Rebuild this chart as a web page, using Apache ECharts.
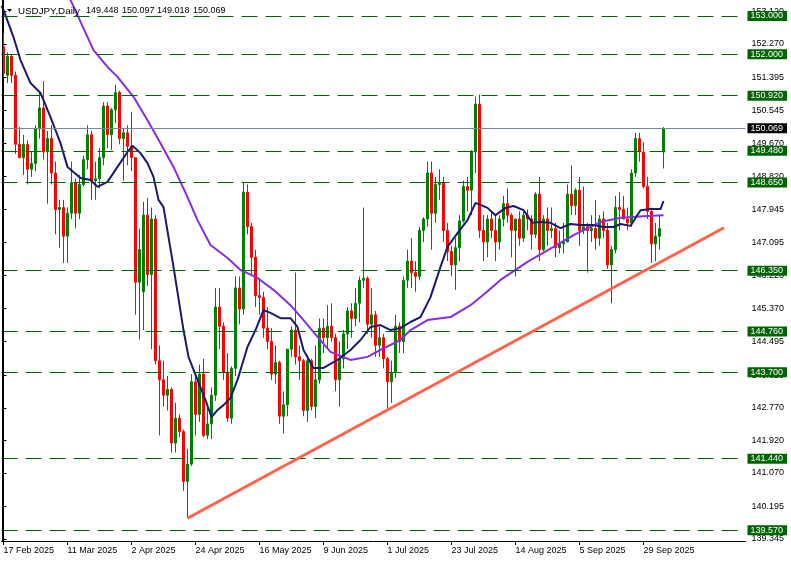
<!DOCTYPE html>
<html><head><meta charset="utf-8">
<script src="https://cdn.jsdelivr.net/npm/echarts@6/dist/echarts.min.js"></script>
<style>html,body{margin:0;padding:0;background:#fff}#c{width:791px;height:563px}</style>
</head><body><div id="c"></div>
<script>
// ---- categories (trading days) ----
const dates = [
'17 Feb 2025','18 Feb 2025','19 Feb 2025','20 Feb 2025','21 Feb 2025','24 Feb 2025','25 Feb 2025','26 Feb 2025','27 Feb 2025','28 Feb 2025',
'3 Mar 2025','4 Mar 2025','5 Mar 2025','6 Mar 2025','7 Mar 2025','10 Mar 2025','11 Mar 2025','12 Mar 2025','13 Mar 2025','14 Mar 2025','17 Mar 2025','18 Mar 2025','19 Mar 2025','20 Mar 2025','21 Mar 2025','24 Mar 2025','25 Mar 2025','26 Mar 2025','27 Mar 2025','28 Mar 2025','31 Mar 2025',
'1 Apr 2025','2 Apr 2025','3 Apr 2025','4 Apr 2025','7 Apr 2025','8 Apr 2025','9 Apr 2025','10 Apr 2025','11 Apr 2025','14 Apr 2025','15 Apr 2025','16 Apr 2025','17 Apr 2025','18 Apr 2025','21 Apr 2025','22 Apr 2025','23 Apr 2025','24 Apr 2025','25 Apr 2025','28 Apr 2025','29 Apr 2025','30 Apr 2025',
'1 May 2025','2 May 2025','5 May 2025','6 May 2025','7 May 2025','8 May 2025','9 May 2025','12 May 2025','13 May 2025','14 May 2025','15 May 2025','16 May 2025','19 May 2025','20 May 2025','21 May 2025','22 May 2025','23 May 2025','26 May 2025','27 May 2025','28 May 2025','29 May 2025','30 May 2025',
'2 Jun 2025','3 Jun 2025','4 Jun 2025','5 Jun 2025','6 Jun 2025','9 Jun 2025','10 Jun 2025','11 Jun 2025','12 Jun 2025','13 Jun 2025','16 Jun 2025','17 Jun 2025','18 Jun 2025','19 Jun 2025','20 Jun 2025','23 Jun 2025','24 Jun 2025','25 Jun 2025','26 Jun 2025','27 Jun 2025','30 Jun 2025',
'1 Jul 2025','2 Jul 2025','3 Jul 2025','4 Jul 2025','7 Jul 2025','8 Jul 2025','9 Jul 2025','10 Jul 2025','11 Jul 2025','14 Jul 2025','15 Jul 2025','16 Jul 2025','17 Jul 2025','18 Jul 2025','21 Jul 2025','22 Jul 2025','23 Jul 2025','24 Jul 2025','25 Jul 2025','28 Jul 2025','29 Jul 2025','30 Jul 2025','31 Jul 2025',
'1 Aug 2025','4 Aug 2025','5 Aug 2025','6 Aug 2025','7 Aug 2025','8 Aug 2025','11 Aug 2025','12 Aug 2025','13 Aug 2025','14 Aug 2025','15 Aug 2025','18 Aug 2025','19 Aug 2025','20 Aug 2025','21 Aug 2025','22 Aug 2025','25 Aug 2025','26 Aug 2025','27 Aug 2025','28 Aug 2025','29 Aug 2025',
'1 Sep 2025','2 Sep 2025','3 Sep 2025','4 Sep 2025','5 Sep 2025','8 Sep 2025','9 Sep 2025','10 Sep 2025','11 Sep 2025','12 Sep 2025','15 Sep 2025','16 Sep 2025','17 Sep 2025','18 Sep 2025','19 Sep 2025','22 Sep 2025','23 Sep 2025','24 Sep 2025','25 Sep 2025','26 Sep 2025','29 Sep 2025','30 Sep 2025',
'1 Oct 2025','2 Oct 2025','3 Oct 2025','6 Oct 2025'
];
// ---- OHLC ----
const opens = [
152.20,151.45,151.95,151.45,149.65,149.30,149.65,149.00,149.15,150.05,
150.60,149.45,149.80,148.90,147.95,148.00,147.25,147.85,148.65,147.85,148.60,149.25,149.90,148.70,148.75,149.30,150.65,149.90,150.55,151.00,149.80,
149.95,149.60,149.30,146.05,145.80,147.80,146.25,147.70,144.00,143.50,143.10,143.25,141.85,142.50,142.15,140.85,141.30,143.45,142.60,143.65,142.05,142.35,
143.10,145.40,144.90,143.70,142.50,143.80,145.90,145.35,148.40,147.50,146.70,145.70,145.65,144.85,144.50,143.65,143.95,142.55,142.85,144.30,144.80,144.10,
144.00,142.70,144.00,142.80,143.50,144.85,144.60,144.90,144.60,143.50,144.05,144.70,145.30,145.10,145.50,146.10,146.15,144.95,145.20,144.40,144.60,
144.05,143.45,143.70,144.90,144.50,146.10,146.60,146.30,146.20,147.40,147.70,148.90,147.85,148.60,148.65,147.40,146.85,146.50,146.95,147.65,148.55,148.45,149.45,
150.70,147.40,147.10,147.70,147.40,147.10,147.70,148.10,147.80,147.40,147.70,147.20,147.80,147.70,147.30,148.35,146.90,147.70,147.40,147.45,146.95,
147.05,147.10,148.35,148.05,148.45,147.40,147.50,147.40,147.45,147.20,147.70,147.40,146.50,146.90,148.00,147.95,147.70,147.60,148.90,149.80,149.45,148.55,
147.90,147.05,147.25,149.448
];
const highs = [
152.55,152.05,152.00,151.55,150.10,149.90,149.75,149.45,150.15,151.00,
151.30,150.00,150.15,149.20,148.20,148.20,148.00,149.20,148.75,148.85,149.35,150.15,150.00,149.20,149.55,150.75,150.75,150.60,151.20,151.05,150.05,
150.15,150.50,149.30,147.45,148.15,148.25,148.00,147.80,144.40,144.00,143.60,143.30,142.90,142.60,142.20,141.70,143.65,143.60,143.90,144.05,142.80,143.30,
145.90,145.90,145.00,144.20,143.85,146.20,146.20,148.65,148.60,147.60,146.90,146.15,145.80,145.40,144.85,144.40,144.00,143.20,144.30,144.90,146.30,144.40,
144.05,144.15,144.05,144.40,145.10,145.10,145.45,145.50,144.70,144.50,144.80,145.40,145.50,145.90,146.20,148.00,146.20,145.90,145.30,144.90,144.70,
144.10,144.00,145.20,145.00,146.20,146.90,147.20,146.60,147.50,147.75,149.20,149.20,148.80,149.00,148.80,147.60,147.00,147.20,147.80,148.70,148.80,149.50,150.90,
150.95,147.80,147.80,147.90,147.80,147.80,148.30,148.50,147.85,147.65,147.90,147.90,147.95,147.80,148.40,148.80,147.80,148.00,148.00,147.60,147.40,
147.60,148.60,149.10,148.50,148.80,148.55,147.60,147.80,148.20,147.80,147.90,147.60,147.00,148.30,148.40,148.30,148.00,149.00,149.95,149.95,149.70,148.80,
148.00,147.60,147.80,150.097
];
const lows = [
151.40,151.25,151.25,149.40,149.30,148.85,148.60,148.80,148.95,149.80,
149.25,148.10,148.60,147.30,146.95,146.55,146.55,147.70,147.45,147.70,148.55,149.00,148.20,148.20,148.50,149.10,149.55,149.50,150.20,149.65,148.70,
149.10,148.95,145.20,144.55,144.80,145.95,144.30,143.90,142.05,142.80,142.70,141.60,141.60,142.00,140.60,139.90,141.25,142.05,142.40,142.00,141.95,141.95,
142.95,144.30,143.50,142.40,142.35,143.60,144.95,145.20,147.30,146.20,145.40,145.20,144.60,144.30,143.50,143.40,142.35,142.10,142.55,144.10,143.90,143.50,
142.55,142.40,142.70,142.50,143.40,144.20,144.30,144.50,143.20,142.80,143.80,144.30,144.60,144.90,145.00,145.90,144.70,144.60,144.10,144.10,143.80,
142.70,142.90,143.55,144.20,144.20,145.90,145.90,145.80,146.10,147.10,147.50,146.90,147.60,148.20,147.10,146.60,146.20,145.85,146.60,147.60,147.90,147.80,148.90,
147.20,146.60,146.70,147.20,146.60,146.90,147.50,147.60,146.70,146.20,147.00,147.10,147.40,146.90,147.20,146.60,146.85,147.00,147.20,146.70,146.80,
146.80,147.10,147.80,147.80,147.00,147.30,146.30,147.10,146.90,147.00,147.20,146.40,145.50,146.80,147.40,147.70,147.40,147.50,148.80,149.20,148.50,147.70,
146.55,146.60,146.90,149.018
];
const closes = [
151.50,151.95,151.45,149.65,149.30,149.65,149.00,149.15,150.05,150.60,
149.45,149.80,148.90,147.95,148.00,147.25,147.85,148.65,147.85,148.60,149.25,149.90,148.70,148.75,149.30,150.65,149.90,150.55,151.00,149.80,149.95,
149.60,149.30,146.05,146.90,147.80,146.25,147.70,144.00,143.50,143.10,143.25,141.85,142.50,142.15,140.85,141.30,143.45,142.60,143.65,142.05,142.35,143.10,
145.40,144.90,143.70,142.50,143.80,145.90,145.35,148.40,147.50,146.70,145.70,145.65,144.85,144.50,143.65,143.95,142.55,142.85,144.30,144.80,144.10,144.00,
142.70,144.00,142.80,143.50,144.85,144.60,144.90,144.60,143.50,144.05,144.70,145.30,145.10,145.50,146.10,146.15,144.95,145.20,144.40,144.60,144.05,
143.45,143.70,144.90,144.50,146.10,146.60,146.30,146.20,147.40,147.70,148.90,147.85,148.60,148.65,147.40,146.85,146.50,146.95,147.65,148.55,148.45,149.45,150.70,
147.40,147.10,147.70,147.40,147.10,147.70,148.10,147.80,147.40,147.70,147.20,147.80,147.70,147.30,148.35,146.90,147.70,147.40,147.45,146.95,147.05,
147.10,148.35,148.05,148.45,147.40,147.50,147.40,147.45,147.20,147.70,147.40,146.50,146.90,148.00,147.95,147.70,147.60,148.90,149.80,149.45,148.55,147.90,
147.05,147.25,147.45,150.069
];
// ---- moving averages: [bar index, price] ----
const maFast = [[-0.5,153.26],[0,153.16],[2.5,152.45],[4.25,151.85],[6.75,151.25],[9.25,150.99],[11.75,150.36],[14.25,149.68],[16,149.06],[19.25,148.77],[21.75,148.72],[23.5,148.54],[26,148.67],[28.5,149.06],[31,149.45],[32.25,149.61],[34.25,149.42],[36,149.16],[37.5,148.80],[38.75,148.20],[40,148.01],[42.5,146.45],[45,144.80],[46.25,144.10],[48.5,143.50],[50.5,142.97],[52,142.53],[53.5,142.71],[55,142.84],[56.75,143.03],[58.5,143.50],[60,144.02],[61,144.36],[63,144.80],[65,145.32],[66.75,145.25],[69.25,145.11],[71.75,145.11],[73.5,144.88],[75,144.28],[77.5,143.81],[80,143.81],[83.5,144.02],[86.75,144.28],[89.25,144.54],[91.75,144.88],[94.25,144.93],[96.75,144.80],[99.25,144.85],[101.75,145.01],[104.25,145.14],[106.75,145.66],[109.25,146.45],[111,146.97],[113.5,147.33],[116,147.67],[118,148.12],[119.25,148.07],[121,147.99],[123,147.80],[125.5,147.99],[127.5,148.04],[130,147.93],[132.25,147.60],[134.25,147.62],[136.75,147.60],[139.25,147.46],[141.75,147.57],[144.25,147.54],[147.5,147.54],[150,147.49],[152.5,147.49],[154.25,147.57],[156.75,147.52],[159.25,147.93],[161.75,147.96],[164.25,147.96],[165,148.17]];
const maSlow = [[14,154.2],[16.75,153.42],[22.5,152.11],[26,151.67],[28.5,151.41],[32.5,150.89],[36,150.28],[39.25,149.68],[42.5,149.06],[46,148.27],[48.5,147.67],[51.75,147.02],[56,146.68],[59.25,146.37],[63.5,146.16],[67.5,145.85],[71.75,145.45],[75,145.06],[78.5,144.62],[81.75,144.23],[86.75,144.02],[91,144.10],[94.25,144.28],[99.25,144.54],[101.75,144.80],[106,145.06],[111.75,145.14],[116.75,145.45],[120.5,145.77],[124.25,146.11],[131,146.58],[137.5,146.97],[142.5,147.28],[149.25,147.62],[154.25,147.73],[161,147.78],[165,147.80]];
// ---- trend line end points [bar index, price] ----
const trendLine = [[46,139.885],[180.1,147.47]];
// ---- horizontal levels ----
const levels = [153.000,152.000,150.920,149.480,148.650,146.350,144.760,143.700,141.440,139.570];
const lastPrice = 150.069;
// ---- axis ticks ----
const yTicks = [139.345,140.195,141.070,141.920,142.770,143.620,144.495,145.370,146.220,147.095,147.945,148.820,149.670,150.545,151.395,152.270,153.120];
const xTickLabels = ['17 Feb 2025','11 Mar 2025','2 Apr 2025','24 Apr 2025','16 May 2025','9 Jun 2025','1 Jul 2025','23 Jul 2025','14 Aug 2025','5 Sep 2025','29 Sep 2025'];
const header = {symbol:'USDJPY,Daily', values:['149.448','150.097','149.018','150.069']};

const SLOTS = 186;
const cats = dates.concat(new Array(SLOTS - dates.length).fill(''));
const candleData = opens.map((o,i)=>[o, closes[i], lows[i], highs[i]]);
const FONT = 'Liberation Sans';
const chart = echarts.init(document.getElementById('c'), null, {renderer:'canvas'});
const levelLines = levels.map(v=>({yAxis:v, lineStyle:{color:'#006400', type:[16,8], width:1},
  label:{show:true, position:'end', distance:2, formatter:v.toFixed(3), color:'#fff', backgroundColor:'#006400',
  fontFamily:FONT, fontSize:9, lineHeight:10, padding:[0,4,0,3]}}));
levelLines.push({yAxis:lastPrice, lineStyle:{color:'#778899', type:'solid', width:1},
  label:{show:true, position:'end', distance:2, formatter:lastPrice.toFixed(3), color:'#fff', backgroundColor:'#000',
  fontFamily:FONT, fontSize:9, lineHeight:10, padding:[0,4,0,3]}});

const titleX = [86,122,157,193];
chart.setOption({
  animation:false,
  backgroundColor:'#fff',
  grid:{left:1.5, right:45.5, top:0, bottom:22, containLabel:false},
  xAxis:[{
    type:'category', data:cats, boundaryGap:true,
    axisLine:{show:true, lineStyle:{color:'#000', width:1}},
    axisTick:{show:true, alignWithLabel:true, length:4, lineStyle:{color:'#000'},
      interval:(i,v)=>xTickLabels.indexOf(v)>=0},
    axisLabel:{show:true, interval:(i,v)=>xTickLabels.indexOf(v)>=0, align:'left', margin:5,
      color:'#000', fontFamily:FONT, fontSize:9},
    splitLine:{show:false}
  },{
    type:'value', min:-0.5, max:SLOTS-0.5, show:false
  }],
  yAxis:{
    type:'value', position:'right', min:139.292, max:153.418, scale:true,
    axisLine:{show:true, lineStyle:{color:'#000', width:1}},
    axisTick:{show:true, length:3, customValues:yTicks, lineStyle:{color:'#000'}},
    axisLabel:{show:true, customValues:yTicks, formatter:v=>v.toFixed(3), margin:6,
      color:'#000', fontFamily:FONT, fontSize:9},
    splitLine:{show:false}
  },
  series:[
    {type:'line', xAxisIndex:1, data:[], z:1, silent:true,
     markLine:{silent:true, symbol:['none','none'], animation:false, data:levelLines}},
    {type:'candlestick', xAxisIndex:0, data:candleData, z:2, barWidth:2,
     itemStyle:{color:'#008000', color0:'#ff0000', borderColor:'#008000', borderColor0:'#ff0000', borderWidth:1}},
    {type:'line', xAxisIndex:1, data:maSlow, z:3, symbol:'none', smooth:false, clip:true,
     lineStyle:{color:'#8a2be2', width:2}},
    {type:'line', xAxisIndex:1, data:maFast, z:4, symbol:'none', smooth:false, clip:true,
     lineStyle:{color:'#191970', width:2}},
    {type:'line', xAxisIndex:1, data:trendLine, z:5, symbol:'none',
     lineStyle:{color:'#ff6347', width:3}}
  ],
  graphic:[
    {type:'line', shape:{x1:2.5, y1:0, x2:2.5, y2:541}, style:{stroke:'#000', lineWidth:1}, z:10},
    {type:'polygon', shape:{points:[[7,9],[12,9],[9.5,12]]}, style:{fill:'#000'}, z:10},
    {type:'text', x:18, y:11, style:{text:header.symbol, font:'9.8px "Liberation Sans"', fill:'#000', textVerticalAlign:'middle'}, z:10}
  ].concat(header.values.map((t,k)=>({type:'text', x:titleX[k], y:11,
    style:{text:t, font:'9px "Liberation Sans"', fill:'#000', textVerticalAlign:'middle'}, z:10})))
});
</script></body></html>
